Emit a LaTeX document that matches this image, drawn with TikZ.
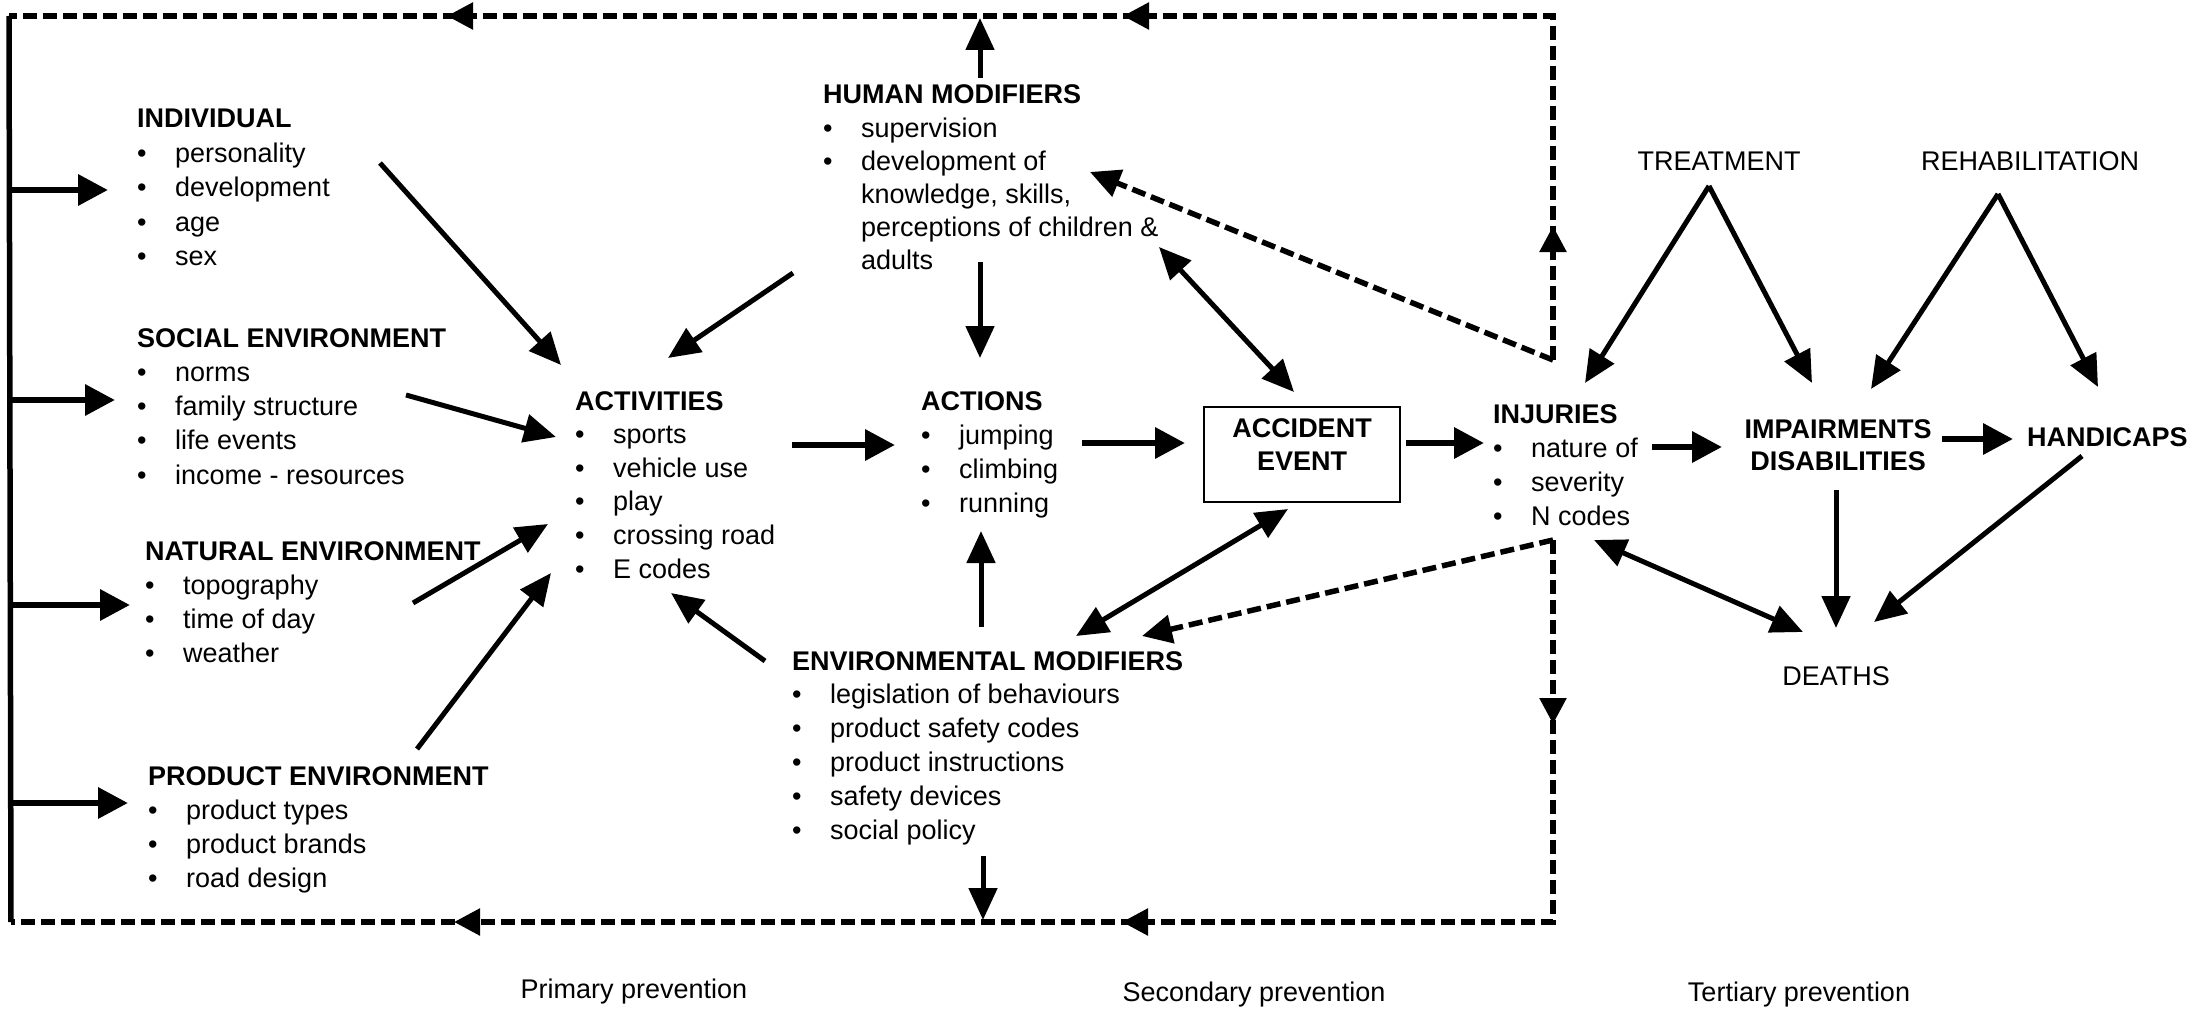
\documentclass[tikz,border=0pt]{standalone}
\usepackage{fontspec}
\setmainfont{Liberation Sans}
\usetikzlibrary{arrows.meta,decorations.markings}
\newcommand\blk[2]{\parbox[t]{440pt}{\fontsize{27pt}{#1pt}\selectfont\raggedright #2}}
\newcommand\bul{\makebox[38pt][l]{\textbullet}}
\newcommand\ind{\hspace*{38pt}}
\newcommand\ctr[2]{\parbox[t]{300pt}{\fontsize{27pt}{#1pt}\selectfont\centering #2}}
\begin{document}
\begin{tikzpicture}[x=1pt,y=-1pt,
  every node/.style={inner sep=0pt,font=\fontsize{27pt}{34pt}\selectfont},
  arr/.style={line width=5pt,-{Triangle[length=32pt,width=28pt]}},
  arrb/.style={line width=5pt,{Triangle[length=32pt,width=28pt]}-{Triangle[length=32pt,width=28pt]}},
  harr/.style={line width=6.5pt,-{Triangle[length=30pt,width=30pt]}},
  dsh/.style={line width=5.5pt,dash pattern=on 14pt off 6pt},
  dsharr/.style={dsh,-{Triangle[length=30pt,width=28pt]}},
  frame/.style={line width=5.5pt},
  mid/.style={decoration={markings,
    mark=at position #1 with {\arrow{Triangle[length=26pt,width=26pt]}}},postaction={decorate}},
  accbox/.style={draw,line width=2.2pt,minimum width=196pt,minimum height=95pt}]
\useasboundingbox (0,0) rectangle (2192,1011);

% ---------------- text blocks ----------------
\node[anchor=base west] (indiv) at (137,128) {\blk{34.5}{\textbf{INDIVIDUAL}\\\bul personality\\\bul development\\\bul age\\\bul sex}};
\node[anchor=base west] (social) at (137,347) {\blk{34.3}{\textbf{SOCIAL ENVIRONMENT}\\\bul norms\\\bul family structure\\\bul life events\\\bul income - resources}};
\node[anchor=base west] (natural) at (145,560) {\blk{34.3}{\textbf{NATURAL ENVIRONMENT}\\\bul topography\\\bul time of day\\\bul weather}};
\node[anchor=base west] (product) at (148,785) {\blk{34.3}{\textbf{PRODUCT ENVIRONMENT}\\\bul product types\\\bul product brands\\\bul road design}};
\node[anchor=base west] (act) at (575,410) {\blk{33.6}{\textbf{ACTIVITIES}\\\bul sports\\\bul vehicle use\\\bul play\\\bul crossing road\\\bul E codes}};
\node[anchor=base west] (human) at (823,104) {\blk{33.2}{\textbf{HUMAN MODIFIERS}\\\bul supervision\\\bul development of\\\ind knowledge, skills,\\\ind perceptions of children \&\\\ind adults}};
\node[anchor=base west] (actions) at (921,410) {\blk{34}{\textbf{ACTIONS}\\\bul jumping\\\bul climbing\\\bul running}};
\node[anchor=base west] (env) at (792,670) {\blk{33.8}{\textbf{ENVIRONMENTAL MODIFIERS}\\\bul legislation of behaviours\\\bul product safety codes\\\bul product instructions\\\bul safety devices\\\bul social policy}};
\node[anchor=base west] (inj) at (1493,423) {\blk{34.3}{\textbf{INJURIES}\\\bul nature of\\\bul severity\\\bul N codes}};
\node[accbox] (acc) at (1302,454.5) {};
\node[anchor=base] (acct) at (1302,437) {\ctr{33}{\textbf{ACCIDENT}\\\textbf{EVENT}}};
\node[anchor=base] (imp) at (1838,438) {\ctr{32}{\textbf{IMPAIRMENTS}\\\textbf{DISABILITIES}}};
\node[anchor=base west] (hand) at (2027,446) {\textbf{HANDICAPS}};
\node[anchor=base] (treat) at (1719,171) {TREATMENT};
\node[anchor=base] (rehab) at (2030,171) {REHABILITATION};
\node[anchor=base] (deaths) at (1836,685) {DEATHS};
\node[anchor=base] (prim) at (634,998) {Primary prevention};
\node[anchor=base] (sec) at (1254,1001) {Secondary prevention};
\node[anchor=base] (tert) at (1799,1001) {Tertiary prevention};

% ---------------- frame coordinates ----------------
\coordinate (TL) at (9,16);
\coordinate (BL) at (11,922);
\coordinate (TR) at (1553,16);
\coordinate (BR) at (1553,922);
\coordinate (J1) at (1553,360);
\coordinate (J2) at (1553,540);
\coordinate (TLm) at (9,190);   \coordinate (indivIn) at (108,190);
\coordinate (SLm) at (10,400);  \coordinate (socialIn) at (115,400);
\coordinate (NLm) at (10,605);  \coordinate (naturalIn) at (130,605);
\coordinate (PLm) at (11,803);  \coordinate (productIn) at (128,803);

% connector end points
\coordinate (humanUp) at (980,78);   \coordinate (topHit) at (980,18);
\coordinate (indivOut) at (380,163); \coordinate (actIn1) at (561,365);
\coordinate (humanOutA) at (793,273);\coordinate (actIn2) at (668,358);
\coordinate (socialOut) at (406,395);\coordinate (actIn3) at (556,437);
\coordinate (naturalOut) at (413,603);\coordinate (actIn4) at (548,524);
\coordinate (productOut) at (417,749);\coordinate (actIn5) at (551,573);
\coordinate (envOutA) at (765,661);  \coordinate (actIn6) at (671,593);
\coordinate (actOut) at (792,445);   \coordinate (actionsIn) at (895,445);
\coordinate (humanDown) at (980,262);\coordinate (actionsTop) at (980,358);
\coordinate (envUp) at (981,627);    \coordinate (actionsBot) at (981,531);
\coordinate (humanAcc) at (1159,247);\coordinate (accTop) at (1294,392);
\coordinate (envAcc) at (1076,636);  \coordinate (accBot) at (1288,509);
\coordinate (actionsOut) at (1082,443);\coordinate (accIn) at (1185,443);
\coordinate (accOut) at (1406,443);  \coordinate (injIn) at (1484,443);
\coordinate (injOut) at (1652,447);  \coordinate (impIn) at (1722,447);
\coordinate (impOut) at (1942,439);  \coordinate (handIn) at (2013,439);
\coordinate (treatOut) at (1709,186);\coordinate (injTop) at (1585,383);
\coordinate (impTopL) at (1812,383);
\coordinate (rehabOut) at (1998,194);\coordinate (impTopR) at (1871,389);
\coordinate (handTop) at (2098,387);
\coordinate (impBot) at (1836,490);  \coordinate (deathsTop) at (1836,628);
\coordinate (handOut) at (2082,456); \coordinate (deathsR) at (1874,622);
\coordinate (injBot) at (1594,540);  \coordinate (deathsL) at (1803,632);
\coordinate (envDown) at (983,856);  \coordinate (botHit) at (983,920);
\coordinate (humanIn) at (1090,172); \coordinate (envIn) at (1142,636);

% ---------------- frame ----------------
\draw[frame] (TL) -- (BL);
\draw[harr] (TLm) -- (indivIn);
\draw[harr] (SLm) -- (socialIn);
\draw[harr] (NLm) -- (naturalIn);
\draw[harr] (PLm) -- (productIn);

\draw[dsh,line join=miter,
  decoration={markings,
    mark=at position 134pt with {\arrow{Triangle[length=26pt,width=26pt]}},
    mark=at position 774pt with {\arrow{Triangle[length=26pt,width=26pt]}},
    mark=at position 1450pt with {\arrow{Triangle[length=26pt,width=26pt]}}},
  postaction={decorate}] (J1) -- (TR) -- (TL);
\draw[dsh,line join=miter,
  decoration={markings,
    mark=at position 184pt with {\arrow{Triangle[length=26pt,width=26pt]}},
    mark=at position 813pt with {\arrow{Triangle[length=26pt,width=26pt]}},
    mark=at position 1481pt with {\arrow{Triangle[length=26pt,width=26pt]}}},
  postaction={decorate}] (J2) -- (BR) -- (BL);
\draw[dsharr] (J1) -- (humanIn);
\draw[dsharr] (J2) -- (envIn);

% ---------------- solid connectors ----------------
\draw[arr] (humanUp) -- (topHit);
\draw[arr] (indivOut) -- (actIn1);
\draw[arr] (humanOutA) -- (actIn2);
\draw[arr] (socialOut) -- (actIn3);
\draw[arr] (naturalOut) -- (actIn4);
\draw[arr] (productOut) -- (actIn5);
\draw[arr] (envOutA) -- (actIn6);
\draw[harr] (actOut) -- (actionsIn);
\draw[arr] (humanDown) -- (actionsTop);
\draw[arr] (envUp) -- (actionsBot);
\draw[arrb] (humanAcc) -- (accTop);
\draw[arrb] (envAcc) -- (accBot);
\draw[harr] (actionsOut) -- (accIn);
\draw[harr] (accOut) -- (injIn);
\draw[harr] (injOut) -- (impIn);
\draw[harr] (impOut) -- (handIn);
\draw[arr] (treatOut) -- (injTop);
\draw[arr] (treatOut) -- (impTopL);
\draw[arr] (rehabOut) -- (impTopR);
\draw[arr] (rehabOut) -- (handTop);
\draw[arr] (impBot) -- (deathsTop);
\draw[arr] (handOut) -- (deathsR);
\draw[arrb] (injBot) -- (deathsL);
\draw[arr] (envDown) -- (botHit);
\end{tikzpicture}
\end{document}
